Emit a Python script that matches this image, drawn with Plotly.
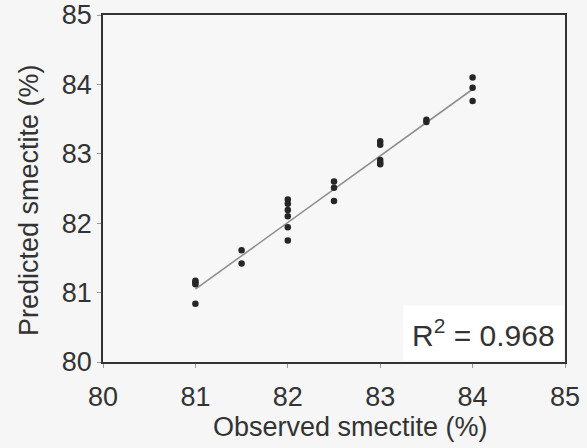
import plotly.graph_objects as go

obs = [81, 81, 81, 81,
       81.5, 81.5,
       82, 82, 82, 82, 82, 82,
       82.5, 82.5, 82.5,
       83, 83, 83, 83, 83,
       83.5, 83.5,
       84, 84, 84]
pred = [81.17, 81.12, 81.15, 80.84,
        81.61, 81.42,
        82.34, 82.28, 82.19, 82.10, 81.94, 81.75,
        82.60, 82.51, 82.32,
        83.18, 83.13, 82.91, 82.87, 82.85,
        83.49, 83.46,
        84.10, 83.95, 83.76]
fit_x = [81, 84]
fit_y = [81.05, 83.93]
r2_text = "R<sup>2</sup> = 0.968"
x_title = "Observed smectite (%)"
y_title = "Predicted smectite (%)"
ticks = [80, 81, 82, 83, 84, 85]

font = "Liberation Sans, Arial, sans-serif"

fig = go.Figure()
fig.add_trace(go.Scatter(x=fit_x, y=fit_y, mode="lines",
                         line=dict(color="#8f8f8f", width=1.6), showlegend=False))
fig.add_trace(go.Scatter(x=obs, y=pred, mode="markers",
                         marker=dict(color="#262626", size=6.5), showlegend=False))

fig.add_annotation(x=1, y=0, xref="paper", yref="paper", xanchor="right", yanchor="bottom",
                   text=r2_text, showarrow=False, font=dict(family=font, size=30, color="#333"),
                   bgcolor="white", borderpad=8, xshift=-1, yshift=1)
fig.add_annotation(x=0.535, y=-0.187, xref="paper", yref="paper", xanchor="center", yanchor="middle",
                   text=x_title, showarrow=False, font=dict(family=font, size=27, color="#333"))
fig.add_annotation(x=-0.16, y=0.467, xref="paper", yref="paper", xanchor="center", yanchor="middle",
                   text=y_title, showarrow=False, textangle=-90,
                   font=dict(family=font, size=27, color="#333"))

fig.update_layout(
    width=587, height=448,
    margin=dict(l=103, r=22, t=15, b=86, autoexpand=False),
    paper_bgcolor="#f6f6f6", plot_bgcolor="#f7f7f7",
    font=dict(family=font, color="#333"),
)
fig.update_xaxes(range=[80, 85], tickvals=ticks, showgrid=False, zeroline=False,
                 showline=True, linecolor="#333", linewidth=1.5, mirror=True,
                 ticks="outside", ticklen=4, tickcolor="#999", automargin=False,
                 ticklabelstandoff=6,
                 tickfont=dict(size=27, color="#333"))
fig.update_yaxes(range=[80, 85], tickvals=ticks, showgrid=False, zeroline=False,
                 showline=True, linecolor="#333", linewidth=1.5, mirror=True,
                 ticks="outside", ticklen=4, tickcolor="#999", automargin=False,
                 tickfont=dict(size=27, color="#333"))

fig.write_html("out.html")
